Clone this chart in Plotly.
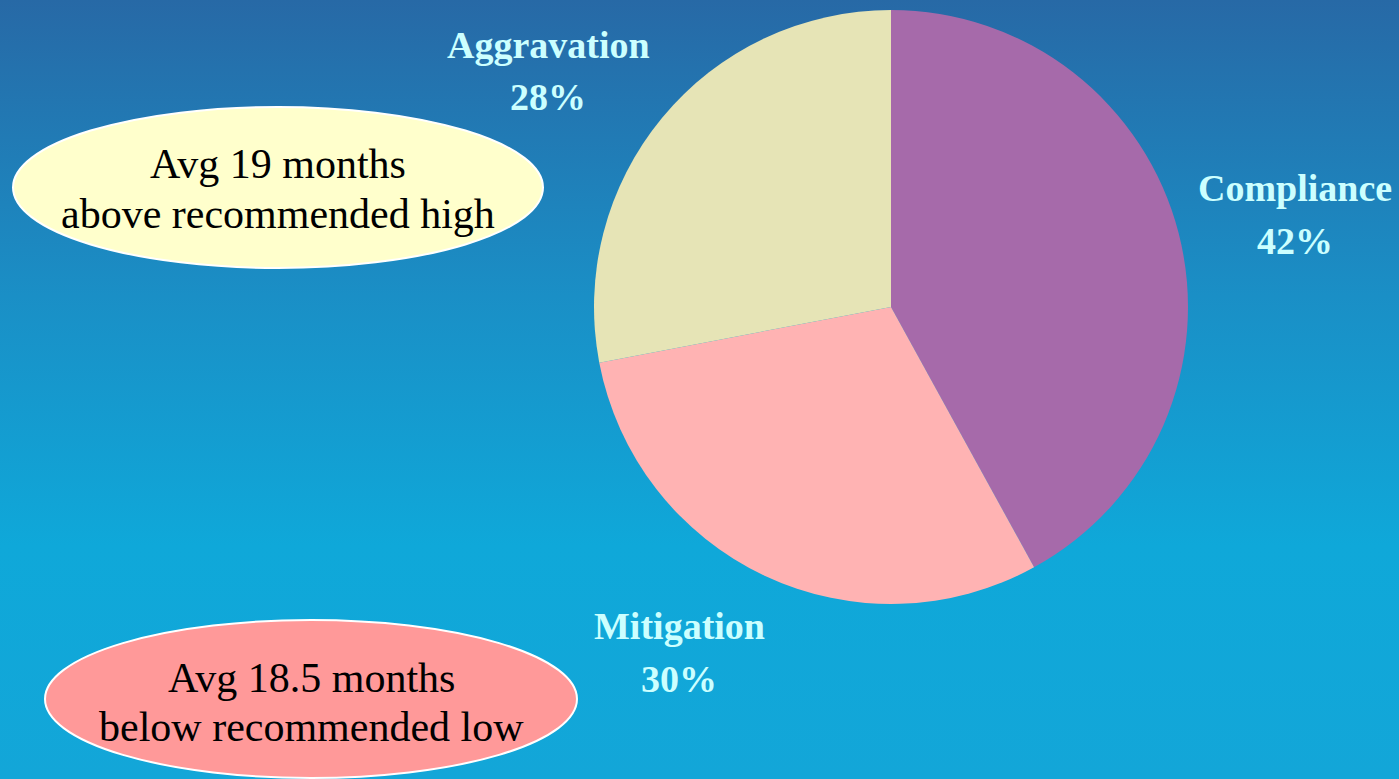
import plotly.graph_objects as go

# data
labels = ["Compliance", "Mitigation", "Aggravation"]
values = [42, 30, 28]
slice_colors = ["#a66aaa", "#ffb3b3", "#e6e4b6"]

# label positions (pixels of a 1399x779 canvas): name line y, percent line y
label_pos = {"Compliance": (1295, 188, 241),
             "Mitigation": (679, 626, 679),
             "Aggravation": (548, 45, 97)}

notes = [
    {"lines": ["Avg 19 months", "above recommended high"], "fill": "#ffffcc",
     "box": (13, 107, 543, 268), "line_y": (164, 214), "size": 42},
    {"lines": ["Avg 18.5 months", "below recommended low"], "fill": "#ff9999",
     "box": (45, 620, 577, 778), "line_y": (678, 727), "size": 42},
]

W, H = 1399, 779


def px(x, y):
    return x / W, 1 - y / H


fig = go.Figure()

# background gradient
fig.add_trace(go.Scatter(
    x=[0, 1, 1, 0, 0], y=[0, 0, 1, 1, 0],
    mode="lines", line=dict(width=0), fill="toself",
    fillgradient=dict(type="vertical", start=0, stop=1,
                      colorscale=[[0, "#13a6d8"], [0.3, "#0fa8d9"],
                                  [0.62, "#1a8fc6"], [1, "#2769a6"]]),
    hoverinfo="skip", showlegend=False,
))

x0, y1 = px(594, 10)
x1, y0 = px(1188, 604)
fig.add_trace(go.Pie(
    labels=labels, values=values, sort=False, direction="clockwise",
    rotation=0, marker=dict(colors=slice_colors, line=dict(width=0)),
    textinfo="none", domain=dict(x=[x0, x1], y=[y0, y1]),
    showlegend=False,
))

label_font = dict(family="Liberation Serif", size=38, color="#ccffff")
for lab, val in zip(labels, values):
    lx, ly1, ly2 = label_pos[lab]
    for txt, ly in ((lab, ly1), (f"{val}%", ly2)):
        ax, ay = px(lx, ly)
        fig.add_annotation(
            x=ax, y=ay, xref="paper", yref="paper", showarrow=False,
            xanchor="center", yanchor="middle",
            text=f"<b>{txt}</b>", font=label_font,
        )

for n in notes:
    bx0, by0, bx1, by1 = n["box"]
    ex0, ey1 = px(bx0, by0)
    ex1, ey0 = px(bx1, by1)
    fig.add_shape(type="circle", xref="paper", yref="paper",
                  x0=ex0, x1=ex1, y0=ey0, y1=ey1,
                  fillcolor=n["fill"], line=dict(color="white", width=2))
    for txt, ly in zip(n["lines"], n["line_y"]):
        fig.add_annotation(
            x=(ex0 + ex1) / 2, y=px(0, ly)[1], xref="paper", yref="paper",
            showarrow=False, text=txt, xanchor="center", yanchor="middle",
            font=dict(family="Liberation Serif", size=n["size"], color="black"),
        )

fig.update_layout(
    width=W, height=H,
    margin=dict(l=0, r=0, t=0, b=0),
    paper_bgcolor="#1a8fc6", plot_bgcolor="rgba(0,0,0,0)",
    xaxis=dict(range=[0, 1], visible=False, fixedrange=True),
    yaxis=dict(range=[0, 1], visible=False, fixedrange=True),
)

fig.write_html("out.html", config={"displayModeBar": False},
               post_script="document.body.style.margin='0';")
